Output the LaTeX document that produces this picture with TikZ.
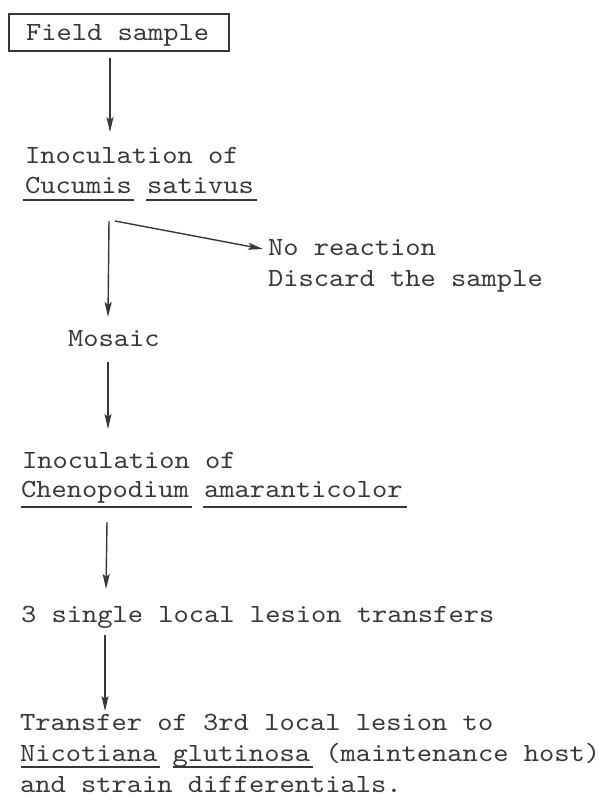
\documentclass[tikz,border=0pt]{standalone}
\usepackage{fontspec}
\setmonofont[Extension=.otf,FakeStretch=1.11]{lmmono10-regular}
\usetikzlibrary{arrows.meta}
\definecolor{ink}{HTML}{383838}
\begin{document}
\begin{tikzpicture}[x=1pt,y=-1pt,
  lbl/.style={anchor=base west,inner sep=0pt,outer sep=0pt,text=ink,font=\fontsize{26.2}{30}\selectfont\ttfamily},
  arr/.style={draw=ink,line width=1.4pt,-{Stealth[length=15pt,width=7pt,inset=3pt]}},
  ul/.style={draw=ink,line width=1.3pt},
  frame/.style={draw=ink,line width=1.6pt,anchor=north west,inner sep=0pt,minimum width=220pt,minimum height=37pt}]
\useasboundingbox[fill=white] (0,0) rectangle (599,806);
% box
\node[frame] (box) at (8,13) {};
\node[lbl] (field) at (26,40) {Field sample};
% first inoculation
\node[lbl] (inoc1) at (25,163) {Inoculation of};
\node[lbl] (cucumis) at (25,193) {Cucumis sativus};
\draw[ul] (23,200) -- (134,200);
\draw[ul] (146,200) -- (257,200);
% no reaction
\node[lbl] (noreact) at (268,255) {No reaction};
\node[lbl] (discard) at (268,286) {Discard the sample};
% mosaic
\node[lbl] (mosaic) at (68,346) {Mosaic};
% second inoculation
\node[lbl] (inoc2) at (22,468) {Inoculation of};
\node[lbl] (cheno) at (21,497) {Chenopodium amaranticolor};
\draw[ul] (21,507) -- (192,507);
\draw[ul] (203,507) -- (407,507);
% transfers
\node[lbl] (single) at (21,622) {3 single local lesion transfers};
% final
\node[lbl] (transfer) at (20,730) {Transfer of 3rd local lesion to};
\node[lbl] (nicot) at (20,761) {Nicotiana glutinosa (maintenance host)};
\node[lbl] (strain) at (20,792) {and strain differentials.};
\draw[ul] (21,767) -- (160,767);
\draw[ul] (173,767) -- (313,767);
% arrow end points
\coordinate (a1s) at (110,58);  \coordinate (a1e) at (110,132);
\coordinate (a2s) at (109,221); \coordinate (a2e) at (108,317);
\coordinate (bs) at (115,221);  \coordinate (be) at (263,249);
\coordinate (a3s) at (108,362); \coordinate (a3e) at (108,429);
\coordinate (a4s) at (107,522); \coordinate (a4e) at (106,589);
\coordinate (a5s) at (105,635); \coordinate (a5e) at (105,711);
\draw[arr] (a1s) -- (a1e);
\draw[arr] (a2s) -- (a2e);
\draw[arr] (bs) -- (be);
\draw[arr] (a3s) -- (a3e);
\draw[arr] (a4s) -- (a4e);
\draw[arr] (a5s) -- (a5e);
\end{tikzpicture}
\end{document}
